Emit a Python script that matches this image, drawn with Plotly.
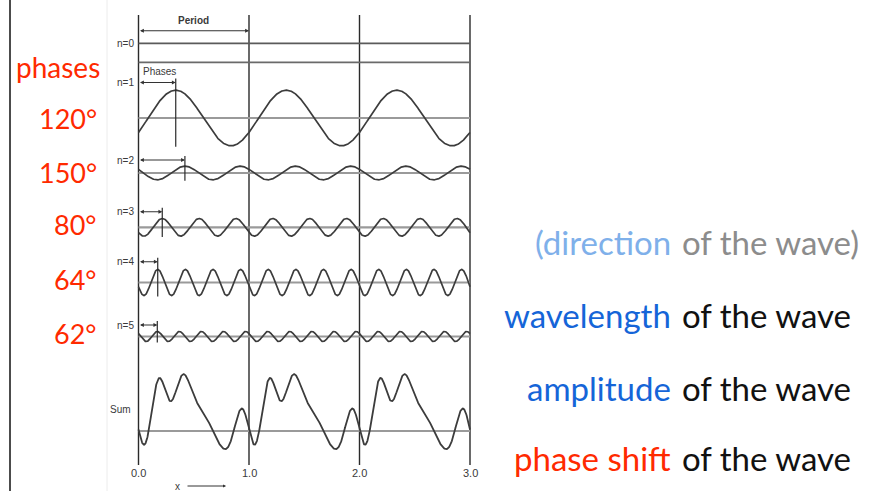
import numpy as np
import plotly.graph_objects as go

# ---------------- data ----------------
HARMONICS = [1, 2, 3, 4, 5]
AMPLITUDES = [1.0, 0.245, 0.317, 0.468, 0.18]      # relative to n=1
PEAK_X = [0.337, 0.42, 0.215, 0.174, 0.17]          # x of first crest (marked phase)
DC_LEVEL = 0.683                                    # n=0 term
ROW_LABELS = ["n=1", "n=2", "n=3", "n=4", "n=5"]
PHASE_LABELS = ["120°", "150°", "80°", "64°", "62°"]
TICK_VALUES = [0.0, 1.0, 2.0, 3.0]
TICK_LABELS = ["0.0", "1.0", "2.0", "3.0"]
PROPERTY_WORDS = ["(direction", "wavelength", "amplitude", "phase shift"]
PROPERTY_TAILS = ["of the wave)", "of the wave", "of the wave", "of the wave"]

# ---------------- layout constants (pixel geometry) ----------------
W, H = 886, 491
X0_PX, PX_PER_X = 138.5, 110.5
SCALE = 27.8                       # px per amplitude unit
N0_BASE, N0_LABEL_Y = 62.3, 43.0
ROW_BASE = [118.0, 173.0, 227.3, 282.5, 336.5]
ROW_LABEL_Y = [82.5, 160.0, 211.7, 261.7, 325.0]
SUM_BASE, SUM_LABEL_Y = 431.0, 409.0
V_TOP, V_BOT = 15.0, 465.0
PHASE_Y = [119, 173, 224, 279, 333]
PROP_Y = [242, 315, 388, 458]

WAVE = "#3c3c3c"
BASEL = "#9a9a9a"
RED = "#ff2a00"
LAB_FONT = dict(family="Liberation Sans", size=10, color="#3a3a3a")

x = np.linspace(0, 3, 1201)
components = [A * np.cos(2 * np.pi * n * (x - p)) for n, A, p in zip(HARMONICS, AMPLITUDES, PEAK_X)]
total = DC_LEVEL + np.sum(components, axis=0)

fig = go.Figure()

def hline(y, color, width):
    fig.add_trace(go.Scatter(x=[0, 3], y=[y, y], mode="lines",
                             line=dict(color=color, width=width), hoverinfo="skip"))

# vertical period lines
for t in TICK_VALUES:
    fig.add_trace(go.Scatter(x=[t, t], y=[V_TOP, V_BOT], mode="lines",
                             line=dict(color="#2a2a2a", width=1.4), hoverinfo="skip"))

# n = 0
hline(N0_BASE, "#6a6a6a", 1.8)
hline(N0_BASE - SCALE * DC_LEVEL, "#5a5a5a", 1.8)

# harmonics
for comp, base, A, p, ly in zip(components, ROW_BASE, AMPLITUDES, PEAK_X, ROW_LABEL_Y):
    hline(base, BASEL, 2.2)
    fig.add_trace(go.Scatter(x=x, y=base - SCALE * comp, mode="lines",
                             line=dict(color=WAVE, width=1.7), hoverinfo="skip"))
    fig.add_trace(go.Scatter(x=[p, p], y=[ly - 4, base + SCALE * A + 1], mode="lines",
                             line=dict(color="#2a2a2a", width=1.2), hoverinfo="skip"))

# sum
hline(SUM_BASE, BASEL, 2.2)
fig.add_trace(go.Scatter(x=x, y=SUM_BASE - SCALE * total, mode="lines",
                         line=dict(color=WAVE, width=1.8), hoverinfo="skip"))

ann = []
def arrow(x0, x1, y, both=True):
    ann.append(dict(x=x1, y=y, ax=x0, ay=y, xref="x", yref="y", axref="x", ayref="y",
                    text="", showarrow=True, arrowhead=2, arrowsize=0.7, arrowwidth=1.1,
                    arrowcolor="#333", arrowside="end+start" if both else "end",
                    startarrowhead=2, startarrowsize=0.7))

def px2x(px):
    return (px - X0_PX) / PX_PER_X

def label(xv, yv, text, font, xanchor="center", ref="x"):
    ann.append(dict(x=xv, y=yv, xref=ref if ref == "x" else "paper",
                    yref="y" if ref == "x" else "paper", text=text, showarrow=False,
                    xanchor=xanchor, yanchor="middle", font=font))

# period
arrow(0, 1, 30.7)
label(0.5, 20, "<b>Period</b>", LAB_FONT)
label(px2x(136), N0_LABEL_Y, "n=0", LAB_FONT, "right")
label(px2x(141), 71, "Phases", LAB_FONT, "left")
for lab, ly, p in zip(ROW_LABELS, ROW_LABEL_Y, PEAK_X):
    label(px2x(136), ly, lab, LAB_FONT, "right")
    arrow(0, p, ly)
label(px2x(133), SUM_LABEL_Y, "Sum", LAB_FONT, "right")
for t, lab in zip(TICK_VALUES, TICK_LABELS):
    label(t, 473, lab, dict(family="Liberation Sans", size=11, color="#3a3a3a"))
label(px2x(177), 486, "x", LAB_FONT)
ann.append(dict(x=px2x(226), y=486, ax=px2x(186), ay=486, xref="x", yref="y", axref="x", ayref="y",
                text="", showarrow=True, arrowhead=2, arrowsize=0.6, arrowwidth=1, arrowcolor="#333"))

# left phases column
label(102 / W, 1 - 67 / H, "phases", dict(family="Lato", size=28, color=RED), "right", "paper")
for lab, py in zip(PHASE_LABELS, PHASE_Y):
    label(99 / W, 1 - py / H, lab, dict(family="Lato", size=27, color=RED), "right", "paper")

# right property column
WORD_COLORS = ["#7fb0ea", "#1565d8", "#1565d8", RED]
TAIL_COLORS = ["#8c8c8c", "#111111", "#111111", "#111111"]
for w, t, py, wc, tc in zip(PROPERTY_WORDS, PROPERTY_TAILS, PROP_Y, WORD_COLORS, TAIL_COLORS):
    label(673 / W, 1 - py / H, w, dict(family="Lato", size=33, color=wc), "right", "paper")
    label(680 / W, 1 - py / H, t, dict(family="Lato", size=33, color=tc), "left", "paper")

shapes = [
    dict(type="line", xref="paper", yref="paper", x0=10 / W, x1=10 / W, y0=0, y1=1,
         line=dict(color="#111", width=1.5)),
    dict(type="line", xref="paper", yref="paper", x0=107 / W, x1=107 / W, y0=0, y1=1,
         line=dict(color="#ececec", width=1)),
]

fig.update_layout(
    width=W, height=H, margin=dict(l=0, r=0, t=0, b=0),
    paper_bgcolor="white", plot_bgcolor="white", showlegend=False,
    xaxis=dict(range=[px2x(0), px2x(W)], visible=False, fixedrange=True),
    yaxis=dict(range=[H, 0], visible=False, fixedrange=True),
    annotations=ann, shapes=shapes,
)
fig.write_html("out.html", config={"displayModeBar": False},
               post_script="document.body.style.margin='0';document.body.style.overflow='hidden';")
